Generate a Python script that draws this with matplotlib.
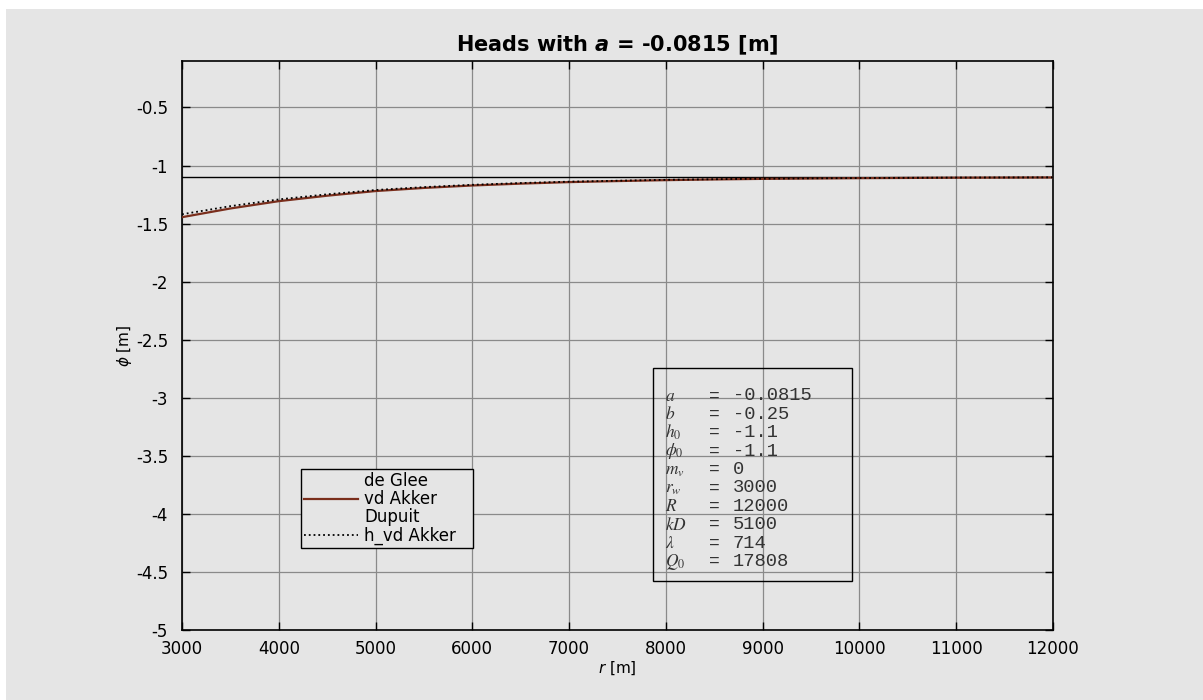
import matplotlib
matplotlib.use('Agg')

import matplotlib.pyplot as plt
from matplotlib.patches import Rectangle

# Data
r = [3000, 3500, 4000, 4500, 5000, 5500, 6000, 6500, 7000, 7500,
     8000, 8500, 9000, 9500, 10000, 10500, 11000, 11500, 12000]
vd_akker = [-1.445, -1.370, -1.307, -1.260, -1.220, -1.193, -1.172, -1.156, -1.143, -1.134,
            -1.126, -1.120, -1.115, -1.112, -1.109, -1.107, -1.105, -1.104, -1.103]
h_vd_akker = [-1.420, -1.350, -1.292, -1.248, -1.211, -1.186, -1.166, -1.151, -1.139, -1.131,
              -1.123, -1.118, -1.113, -1.110, -1.108, -1.106, -1.104, -1.103, -1.102]
de_glee = []
dupuit = []
h0 = -1.1

param_symbols = [r'$a$', r'$b$', r'$h_0$', r'$\phi_0$', r'$m_v$', r'$r_w$',
                 r'$R$', r'$kD$', r'$\lambda$', r'$Q_0$']
param_values = ['-0.0815', '-0.25', '-1.1', '-1.1', '0', '3000',
                '12000', '5100', '714', '17808']

x_ticks = [3000, 4000, 5000, 6000, 7000, 8000, 9000, 10000, 11000, 12000]
y_ticks = [-5, -4.5, -4, -3.5, -3, -2.5, -2, -1.5, -1, -0.5]
y_ticklabels = ['-5', '-4.5', '-4', '-3.5', '-3', '-2.5', '-2', '-1.5', '-1', '-0.5']

W, H = 1203, 700
BG = '#e5e5e5'

plt.rcParams['font.family'] = ['DejaVu Sans']
plt.rcParams['axes.unicode_minus'] = False

fig = plt.figure(figsize=(W / 100, H / 100), dpi=100, facecolor='white')
fig.patches.append(Rectangle((6 / W, 0), 1, (H - 9) / H, transform=fig.transFigure,
                             facecolor=BG, edgecolor='none', zorder=-10))

ax = fig.add_axes([182 / W, (H - 630) / H, 871 / W, 569 / H])
ax.set_facecolor(BG)
ax.set_axisbelow(True)
ax.grid(True, color='#8a8a8a', linewidth=0.9)

ax.axhline(h0, color='black', linewidth=1.0, zorder=2)
ax.plot(de_glee, de_glee, linestyle='none', label='de Glee')
ax.plot(r, vd_akker, color='#7a2e1c', linewidth=1.6, label='vd Akker', zorder=3)
ax.plot(dupuit, dupuit, linestyle='none', label='Dupuit')
ax.plot(r, h_vd_akker, color='black', linestyle=':', linewidth=1.3, label='h_vd Akker', zorder=4)

ax.set_xlim(3000, 12000)
ax.set_ylim(-5, -0.1)
ax.set_xticks(x_ticks)
ax.set_yticks(y_ticks)
ax.set_yticklabels(y_ticklabels)
ax.tick_params(direction='in', top=True, right=True, length=6, width=1,
               labelsize=12)
ax.tick_params(axis='y', pad=10)
ax.tick_params(axis='x', pad=7)
for s in ax.spines.values():
    s.set_linewidth(1.2)
    s.set_color('black')

ax.set_xlabel(r'$r$ [m]', fontsize=11, labelpad=1)
ax.set_ylabel(r'$\phi$ [m]', fontsize=11, labelpad=1)
ax.set_title(r'Heads with $\boldsymbol{a}$ = -0.0815 [m]', fontsize=15,
             fontweight='bold', pad=7)

# Legend
x0 = (301 - 182) / 871
y0 = (630 - 548) / 569
leg = ax.legend(loc='lower left', bbox_to_anchor=(x0, y0, 172 / 871, 72 / 569),
                mode='expand', borderaxespad=0, fontsize=12, labelspacing=0.0,
                handlelength=3.2, handletextpad=0.4, borderpad=0.2,
                fancybox=False, framealpha=1, facecolor=BG, edgecolor='black')
leg.get_frame().set_linewidth(1.0)

# Parameter box
fig.patches.append(Rectangle((653 / W, (H - 581) / H), 199 / W, 213 / H,
                             transform=fig.transFigure, facecolor='none',
                             edgecolor='black', linewidth=1.0, zorder=5))
for i, (sym, val) in enumerate(zip(param_symbols, param_values)):
    yy = (H - (396 + 18.4 * i)) / H
    fig.text(665 / W, yy, sym, fontsize=12.5, va='center', ha='left',
             color='#333333', math_fontfamily='stix')
    fig.text(714 / W, yy, '=', fontsize=13, va='center', ha='center',
             color='#333333', family='Liberation Mono')
    fig.text(733 / W, yy, val, fontsize=13.5, va='center', ha='left',
             color='#333333', family='Liberation Mono')

fig.savefig('out.png', dpi=100, facecolor=fig.get_facecolor())
